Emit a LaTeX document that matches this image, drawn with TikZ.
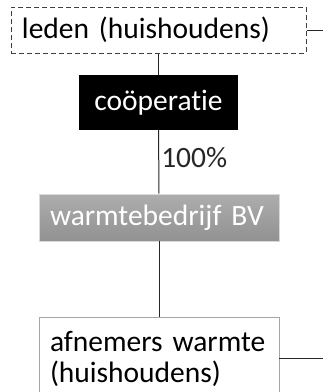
\documentclass[tikz,border=0pt]{standalone}
\usepackage{fontspec}
\newfontfamily\boxfont{Carlito}[Ligatures=NoCommon, Contextuals=NoAlternate]
\DeclareRobustCommand\nodefont{\boxfont\fontsize{29.5}{31}\selectfont\spaceskip=0.14em\relax}

\begin{document}
\begin{tikzpicture}[x=1pt, y=-1pt,
    every node/.style={font=\nodefont, inner sep=0pt},
    link/.style={line width=1pt, black!85}]
    \clip (0,0) rectangle (323,392);

    % Members box (dashed)
    \node[draw=black!75, line width=1pt, dash pattern=on 5pt off 3pt,
          minimum width=295pt, minimum height=46pt, text width=273pt, align=left]
          (leden) at (158.5,30) {leden (huishoudens)};

    % Cooperative
    \node[fill=black, text=white, minimum width=159pt, minimum height=55pt]
          (coop) at (158.5,102.5) {coöperatie};

    % Heat company
    \node[draw=black!15, line width=0.6pt, top color=black!32, bottom color=black!43,
          text=white, minimum width=240pt, minimum height=47pt, text width=218pt, align=left]
          (bv) at (159,217.5) {warmtebedrijf BV};

    % Heat customers
    \node[draw=black!35, line width=0.8pt,
          minimum width=240pt, minimum height=83pt, text width=218pt, align=left]
          (afn) at (159,358.5) {afnemers warmte\\(huishoudens)};

    % Loose ends to the right
    \coordinate (ledenout) at (323,30);
    \coordinate (afnout) at (323,358.5);

    % Connections
    \draw[link] (leden) -- (coop);
    \draw[link] (coop) -- node[right=2pt, yshift=4pt] {100\%} (bv);
    \draw[link] (bv) -- (afn);
    \draw[link] (leden.east) -- (ledenout);
    \draw[link] (afn.east) -- (afnout);
\end{tikzpicture}
\end{document}
